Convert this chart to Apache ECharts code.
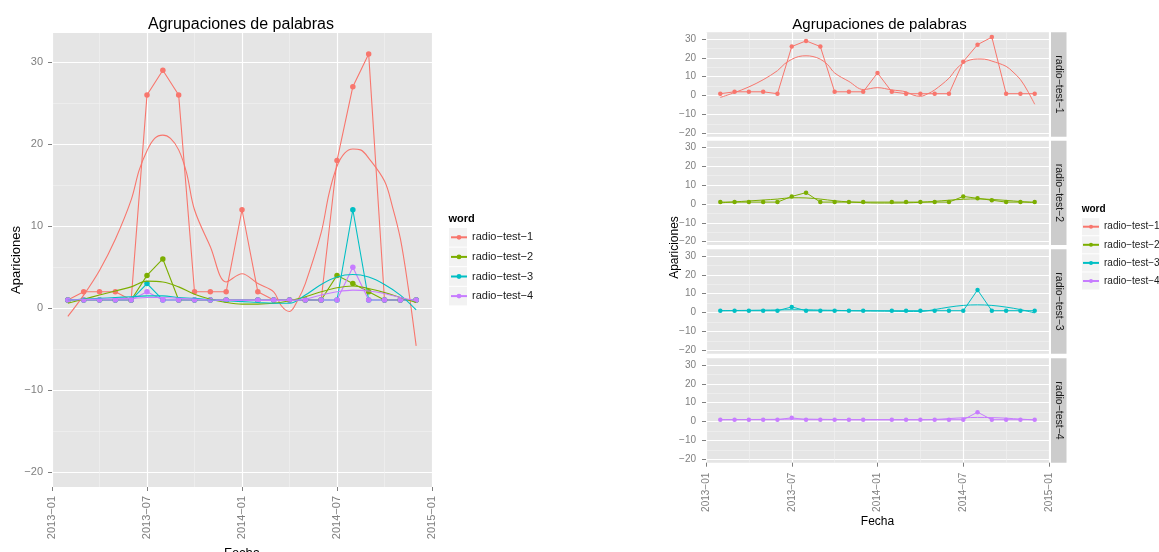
<!DOCTYPE html>
<html>
<head>
<meta charset="utf-8">
<script src="https://cdn.jsdelivr.net/npm/echarts@6/dist/echarts.min.js"></script>
<style>html,body{margin:0;padding:0;background:#fff}#c{width:1159px;height:552px}</style>
</head>
<body>
<div id="c"></div>
<script>
// ---------------- DATA ----------------
const seriesNames = ['radio-test-1', 'radio-test-2', 'radio-test-3', 'radio-test-4'];
const months = ['2013-02','2013-03','2013-04','2013-05','2013-06','2013-07','2013-08','2013-09','2013-10','2013-11','2013-12',
                '2014-01','2014-02','2014-03','2014-04','2014-05','2014-06','2014-07','2014-08','2014-09','2014-10','2014-11','2014-12'];
const test1 = [1, 2, 2, 2, 1, 26, 29, 26, 2, 2, 2, 12, 2, 1, 1, 1, 1, 18, 27, 31, 1, 1, 1];
const test2 = [1, 1, 1, 1, 1, 4, 6, 1, 1, 1, 1, null, 1, 1, 1, 1, 1, 4, 3, 2, 1, 1, 1];
const test3 = [1, 1, 1, 1, 1, 3, 1, 1, 1, 1, 1, null, 1, 1, 1, 1, 1, 1, 12, 1, 1, 1, 1];
const test4 = [1, 1, 1, 1, 1, 2, 1, 1, 1, 1, 1, null, 1, 1, 1, 1, 1, 1, 5, 1, 1, 1, 1];

// loess curves
const smooth1Dates = ['2013-02-01','2013-03-01','2013-04-01','2013-05-01','2013-06-01','2013-06-16','2013-07-01','2013-07-16',
  '2013-08-01','2013-08-16','2013-09-01','2013-09-16','2013-10-01','2013-11-01','2013-12-01','2014-01-01','2014-02-01',
  '2014-03-01','2014-03-16','2014-04-01','2014-04-16','2014-05-01','2014-06-01','2014-06-16','2014-07-01','2014-07-16',
  '2014-08-01','2014-08-16','2014-09-01','2014-10-01','2014-10-16','2014-11-01','2014-11-16','2014-12-01'];
const smooth1 = [-1.0, 1.6, 4.6, 8.4, 13.2, 16.8, 19.2, 20.7, 21.1, 20.7, 19.3, 16.5, 12.0, 7.5, 3.2, 4.2, 3.0,
  2.0, 0.3, -0.4, 0.9, 3.0, 9.2, 14.0, 17.3, 18.9, 19.4, 19.3, 18.3, 15.5, 12.5, 8.5, 2.5, -4.6];
const smoothMonths = months;
const smooth2 = [0.6, 1.1, 1.6, 2.1, 2.6, 3.3, 3.2, 2.6, 1.7, 1.1, 0.7, 0.5, 0.5, 0.6, 0.9, 1.4, 2.0, 2.5, 2.7, 2.4, 1.9, 1.3, 0.7];
const smooth3 = [1.0, 1.1, 1.2, 1.3, 1.4, 1.5, 1.5, 1.3, 1.2, 1.0, 0.9, 0.8, 0.7, 0.6, 0.6, 1.6, 2.9, 3.8, 4.1, 3.8, 2.9, 1.6, -0.2];
const smooth4 = [1.0, 1.05, 1.1, 1.15, 1.2, 1.3, 1.3, 1.2, 1.1, 1.0, 0.95, 0.95, 0.95, 0.95, 0.95, 1.1, 1.6, 2.0, 2.2, 2.1, 1.8, 1.3, 0.9];

const xTickLabels = ['2013-01', '2013-07', '2014-01', '2014-07', '2015-01'];
const yTicks = [-20, -10, 0, 10, 20, 30];
const yRange = [-21.8, 33.55];

const titleText = 'Agrupaciones de palabras';
const xTitle = 'Fecha';
const yTitle = 'Apariciones';
const legendTitle = 'word';

// ---------------- STYLE / LAYOUT ----------------
const FONT = 'Liberation Sans';
const COLORS = ['#F8766D', '#7CAE00', '#00BFC4', '#C77CFF'];
const GREY = '#7F7F7F';
const LEFT = { left: 52, top: 33, width: 380, height: 454 };
const RIGHT = { left: 706, width: 343, tops: [32.3, 140.7, 249.3, 358.3], height: 104.4 };

const fmt = s => String(s).replace(/-/g, '\u2212');
function monthPos(s) {
  const p = s.split('-').map(Number);
  const y = p[0], mo = p[1], d = p[2] || 1;
  const dim = new Date(y, mo, 0).getDate();
  return (y - 2013) * 12 + (mo - 1) + (d - 1) / dim;
}
const pointValues = [test1, test2, test3, test4];
const smoothSets = [
  { dates: smooth1Dates, vals: smooth1 },
  { dates: smoothMonths, vals: smooth2 },
  { dates: smoothMonths, vals: smooth3 },
  { dates: smoothMonths, vals: smooth4 }
];

const grids = [], xAxes = [], yAxes = [], series = [];

function addPanel(rect, o) {
  const gi = grids.length;
  const span = yRange[1] - yRange[0];
  const yTop = yTicks[yTicks.length - 1], yBot = yTicks[0];
  grids.push({ left: rect.left, top: rect.top, width: rect.width, height: rect.height, show: true,
    backgroundColor: '#E5E5E5', borderWidth: 0, containLabel: false, outerBoundsMode: 'none' });
  grids.push({ left: rect.left, top: rect.top + (yRange[1] - yTop) / span * rect.height,
    width: rect.width, height: (yTop - yBot) / span * rect.height, show: false,
    containLabel: false, outerBoundsMode: 'none' });
  xAxes.push({
    gridIndex: gi, type: 'value', min: 0, max: 24, interval: 6, position: 'bottom',
    axisLine: { show: false, onZero: false },
    axisTick: { show: o.xLabels, length: 4, lineStyle: { color: GREY, width: 1 } },
    axisLabel: { show: o.xLabels, rotate: 90, margin: o.xMargin, color: GREY, fontSize: o.fs, fontFamily: FONT,
      formatter: v => fmt(xTickLabels[Math.round(v / 6)]) },
    splitLine: { show: true, lineStyle: { color: '#FFFFFF', width: 1.2 } },
    minorTick: { show: false, splitNumber: 2 },
    minorSplitLine: { show: true, lineStyle: { color: '#F2F2F2', width: 0.6 } },
    name: o.xLabels ? xTitle : '', nameLocation: 'middle', nameGap: o.xNameGap,
    nameTextStyle: { color: '#000', fontSize: o.titleFs, fontFamily: FONT }
  });
  xAxes.push({ gridIndex: gi + 1, type: 'value', min: 0, max: 24, show: false, axisLine: { onZero: false } });
  yAxes.push({ gridIndex: gi, type: 'value', min: yRange[0], max: yRange[1], show: false, axisLine: { onZero: false } });
  yAxes.push({
    gridIndex: gi + 1, type: 'value', min: yBot, max: yTop, interval: 10, position: 'left',
    axisLine: { show: false, onZero: false },
    axisTick: { show: true, length: 4, lineStyle: { color: GREY, width: 1 } },
    axisLabel: { margin: o.yMargin, color: GREY, fontSize: o.fs, fontFamily: FONT, formatter: v => fmt(v) },
    splitLine: { show: true, lineStyle: { color: '#FFFFFF', width: 1.2 } },
    minorTick: { show: false, splitNumber: 2 },
    minorSplitLine: { show: true, lineStyle: { color: '#F2F2F2', width: 0.6 } }
  });
  return gi; // axis index of the data axes
}

function addSeries(axisIdx, i, symSize, lw) {
  const pts = [];
  months.forEach((m, j) => { if (pointValues[i][j] != null) pts.push([monthPos(m), pointValues[i][j]]); });
  series.push({
    name: seriesNames[i], type: 'line', xAxisIndex: axisIdx, yAxisIndex: axisIdx,
    data: pts, symbol: 'circle', symbolSize: symSize, showSymbol: true,
    itemStyle: { color: COLORS[i] }, lineStyle: { color: COLORS[i], width: lw },
    emphasis: { disabled: true }, z: 2
  });
}
function addSmooth(axisIdx, i, lw) {
  const s = smoothSets[i];
  series.push({
    name: seriesNames[i], type: 'line', xAxisIndex: axisIdx, yAxisIndex: axisIdx,
    data: s.dates.map((d, j) => [monthPos(d), s.vals[j]]),
    symbol: 'none', showSymbol: false, smooth: 0.35,
    itemStyle: { color: COLORS[i] }, lineStyle: { color: COLORS[i], width: lw },
    emphasis: { disabled: true }, z: 3
  });
}

// Left chart
const leftAx = addPanel(LEFT, { xLabels: true, fs: 11, titleFs: 13, xMargin: 9, yMargin: 9, xNameGap: 47 });
for (let i = 0; i < 4; i++) addSeries(leftAx, i, 5.5, 1.1);
for (let i = 0; i < 4; i++) addSmooth(leftAx, i, 1.1);

// Right chart (facets)
for (let k = 0; k < 4; k++) {
  const ax = addPanel({ left: RIGHT.left, top: RIGHT.tops[k], width: RIGHT.width, height: RIGHT.height },
    { xLabels: k === 3, fs: 10, titleFs: 12, xMargin: 10, yMargin: 10, xNameGap: 51 });
  addSeries(ax, k, 4.5, 1);
  addSmooth(ax, k, 1);
}

// graphics: legend key backgrounds, legend titles, strips, y titles
const graphics = [];
function legendKeys(x, firstCenter, step, size) {
  for (let i = 0; i < 4; i++) {
    graphics.push({ type: 'rect', shape: { x: x, y: firstCenter + i * step - step / 2 + 0.5, width: size, height: step - 1 },
      style: { fill: '#F2F2F2' }, z: 0, silent: true });
  }
}
legendKeys(449, 237.3, 19.6, 18);
legendKeys(1082, 226.7, 18.1, 17.3);
graphics.push({ type: 'text', x: 448.5, y: 219.3, style: { text: legendTitle, font: 'bold 11px "Liberation Sans"',
  fill: '#000', textVerticalAlign: 'middle', verticalAlign: 'middle' } });
graphics.push({ type: 'text', x: 1081.7, y: 209.3, style: { text: legendTitle, font: 'bold 10px "Liberation Sans"',
  fill: '#000', textVerticalAlign: 'middle', verticalAlign: 'middle' } });
for (let k = 0; k < 4; k++) {
  graphics.push({ type: 'rect', shape: { x: 1051, y: RIGHT.tops[k], width: 15.5, height: RIGHT.height },
    style: { fill: '#CCCCCC' }, silent: true });
  graphics.push({ type: 'text', x: 1058.7, y: RIGHT.tops[k] + RIGHT.height / 2, rotation: -Math.PI / 2,
    style: { text: fmt(seriesNames[k]), font: '10.5px "Liberation Sans"', fill: '#1A1A1A',
      align: 'center', verticalAlign: 'middle', textAlign: 'center', textVerticalAlign: 'middle' } });
}
graphics.push({ type: 'text', x: 16.5, y: LEFT.top + LEFT.height / 2, rotation: Math.PI / 2,
  style: { text: yTitle, font: '13px "Liberation Sans"', fill: '#000', align: 'center', verticalAlign: 'middle',
    textAlign: 'center', textVerticalAlign: 'middle' } });
graphics.push({ type: 'text', x: 675, y: (RIGHT.tops[0] + RIGHT.tops[3] + RIGHT.height) / 2, rotation: Math.PI / 2,
  style: { text: yTitle, font: '12px "Liberation Sans"', fill: '#000', align: 'center', verticalAlign: 'middle',
    textAlign: 'center', textVerticalAlign: 'middle' } });

const option = {
  animation: false,
  backgroundColor: '#FFFFFF',
  textStyle: { fontFamily: FONT },
  title: [
    { text: titleText, left: LEFT.left + LEFT.width / 2 - 1, top: 17, textAlign: 'center', padding: 0,
      textStyle: { fontSize: 16, fontWeight: 'normal', fontFamily: FONT, color: '#000' } },
    { text: titleText, left: RIGHT.left + RIGHT.width / 2 + 2, top: 17, textAlign: 'center', padding: 0,
      textStyle: { fontSize: 15, fontWeight: 'normal', fontFamily: FONT, color: '#000' } }
  ],
  legend: [
    { data: seriesNames, orient: 'vertical', left: 450, top: 231.8, padding: 0, itemWidth: 16, itemHeight: 6,
      itemGap: 8.6, selectedMode: false, formatter: fmt,
      textStyle: { fontSize: 11, fontFamily: FONT, color: '#1A1A1A' } },
    { data: seriesNames, orient: 'vertical', left: 1082, top: 221.7, padding: 0, itemWidth: 16, itemHeight: 5,
      itemGap: 8.1, selectedMode: false, formatter: fmt,
      textStyle: { fontSize: 10, fontFamily: FONT, color: '#1A1A1A' } }
  ],
  grid: grids, xAxis: xAxes, yAxis: yAxes, series: series,
  graphic: graphics
};

const chart = echarts.init(document.getElementById('c'), null, { renderer: 'canvas' });
chart.setOption(option);
</script>
</body>
</html>
